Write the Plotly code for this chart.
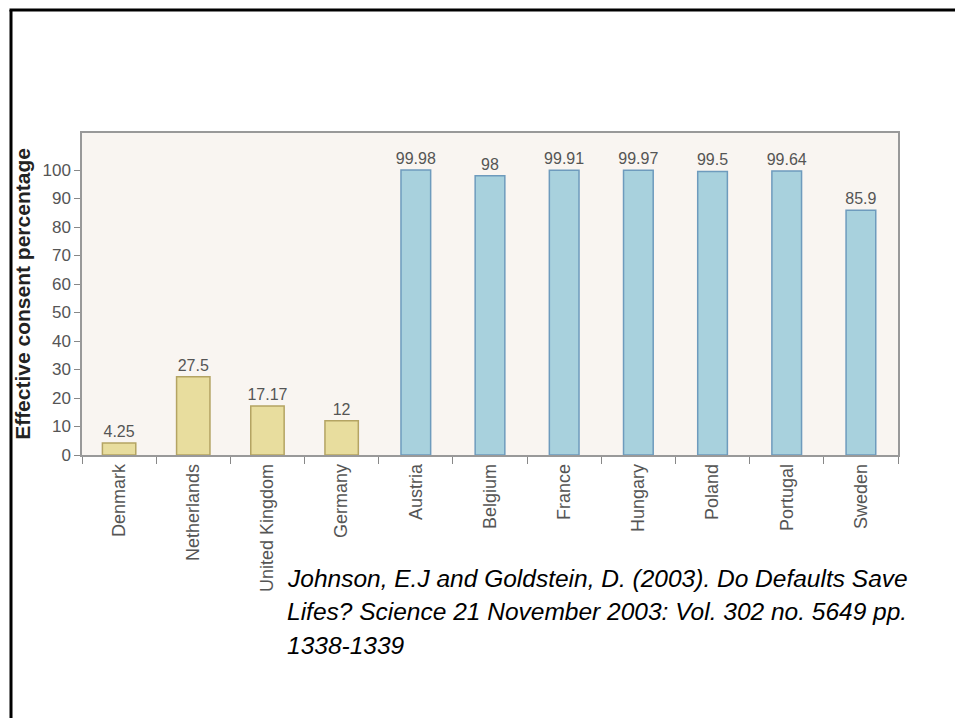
import plotly.graph_objects as go

# Effective consent rates for organ donation by country
countries = ["Denmark", "Netherlands", "United Kingdom", "Germany", "Austria",
             "Belgium", "France", "Hungary", "Poland", "Portugal", "Sweden"]
consent = [4.25, 27.5, 17.17, 12, 99.98, 98, 99.91, 99.97, 99.5, 99.64, 85.9]
labels = ["4.25", "27.5", "17.17", "12", "99.98", "98", "99.91", "99.97", "99.5", "99.64", "85.9"]
opt_in = ["Denmark", "Netherlands", "United Kingdom", "Germany"]

y_ticks = list(range(0, 101, 10))

citation_lines = [
    "Johnson, E.J and Goldstein, D. (2003). Do Defaults Save",
    "Lifes? Science 21 November 2003: Vol. 302 no. 5649 pp.",
    "1338-1339",
]

# opt-in countries in pale yellow, opt-out countries in pale blue
fill = ["#e8dd9e" if c in opt_in else "#a8d1dd" for c in countries]
edge = ["#b4a463" if c in opt_in else "#6e9bbd" for c in countries]
bar_w = [0.45 if c in opt_in else 0.40 for c in countries]

# plot-area geometry in pixels (used to place slide decorations)
W, H = 955, 718
L, R, T, B = 82, 898, 133, 455
pw, ph = R - L, B - T


def px(x):
    return (x - L) / pw


def py(y):
    return (B - y) / ph


fig = go.Figure()
fig.add_trace(go.Bar(
    x=countries, y=consent, text=labels, textposition="outside",
    constraintext="none",
    textfont=dict(family="Liberation Sans, Arial", size=16, color="#555555"),
    marker=dict(color=fill, line=dict(color=edge, width=1.5)),
    width=bar_w, cliponaxis=False,
))

# citation block, one annotation per line for even line spacing
cite_top, cite_step = 578, 33.5
annotations = [
    dict(text="<i>" + line + "</i>", xref="paper", yref="paper",
         x=px(285), y=py(cite_top + i * cite_step),
         xanchor="left", yanchor="middle", align="left", showarrow=False,
         font=dict(family="Liberation Sans, Arial", size=24.5, color="black",
                   style="italic"))
    for i, line in enumerate(citation_lines)
]

fig.update_layout(
    width=W, height=H,
    margin=dict(l=L, r=W - R, t=T, b=H - B),
    paper_bgcolor="white",
    plot_bgcolor="#f9f5f1",
    showlegend=False,
    font=dict(family="Liberation Sans, Arial", color="#555555"),
    xaxis=dict(
        type="category", tickangle=-90, tickson="boundaries",
        ticks="outside", ticklen=7, tickcolor="#888888",
        showline=True, linecolor="#999999", linewidth=1.5, mirror=True,
        showgrid=False, tickfont=dict(size=18, color="#555555"),
    ),
    yaxis=dict(
        range=[0, 113], tickvals=y_ticks, ticks="outside", ticklen=6,
        tickcolor="#888888", showline=True, linecolor="#999999",
        linewidth=1.5, mirror=True, showgrid=False, zeroline=False,
        tickfont=dict(size=17, color="#555555"),
        title=dict(text="<b>Effective consent percentage</b>",
                   font=dict(size=21, color="#222222"), standoff=6),
    ),
    annotations=annotations,
    shapes=[
        dict(type="line", xref="paper", yref="paper",
             x0=px(9.5), x1=px(W + 5), y0=py(10), y1=py(10),
             line=dict(color="black", width=3)),
        dict(type="line", xref="paper", yref="paper",
             x0=px(11), x1=px(11), y0=py(10), y1=py(H + 5),
             line=dict(color="black", width=3)),
    ],
)

fig.write_html("out.html")
